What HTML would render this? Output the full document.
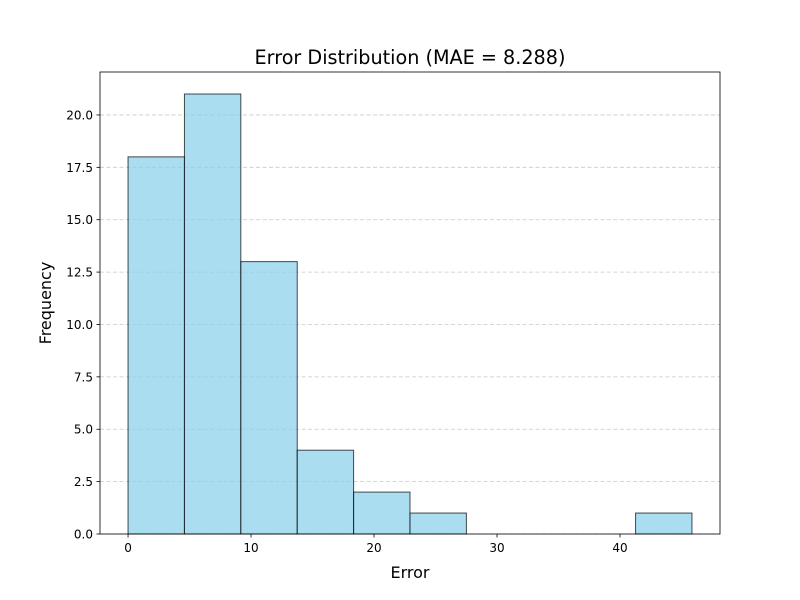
<!DOCTYPE html>
<html><head><meta charset="utf-8"><style>body{margin:0;background:#fff}svg{display:block}text{font-family:"DejaVu Sans","Liberation Sans",sans-serif}</style></head>
<body>
<svg id="chart" width="800" height="600" xmlns="http://www.w3.org/2000/svg">
<rect width="800" height="600" fill="#fff"/>
<g id="grid"></g><g id="bars"></g><g id="axes"></g>
<text x="410" y="64" text-anchor="middle" font-size="19.2">Error Distribution (MAE = 8.288)</text>
<text x="410" y="578" text-anchor="middle" font-size="16">Error</text>
<text transform="translate(51,303) rotate(-90)" text-anchor="middle" font-size="16">Frequency</text>
</svg>
<script>
const binStart = 0.0;
const binWidth = 4.585;
const counts = [18, 21, 13, 4, 2, 1, 0, 0, 0, 1];
const xTicks = [0, 10, 20, 30, 40];
const yTicks = [0, 2.5, 5, 7.5, 10, 12.5, 15, 17.5, 20];
const yTickLabels = ["0.0","2.5","5.0","7.5","10.0","12.5","15.0","17.5","20.0"];
const L=100,R=720,T=72,B=534, xmin=-2.28, xmax=48.13, ymax=22.05;
const X=v=>L+(v-xmin)/(xmax-xmin)*(R-L);
const Y=v=>B-v/ymax*(B-T);
const NS="http://www.w3.org/2000/svg";
function mk(tag,attrs,parent){const e=document.createElementNS(NS,tag);for(const k in attrs)e.setAttribute(k,attrs[k]);document.getElementById(parent).appendChild(e);return e;}
yTicks.forEach(v=>{const g=mk('line',{x1:L,x2:R,y1:Y(v),y2:Y(v),stroke:'#b0b0b0','stroke-opacity':0.7,'stroke-dasharray':'4,2.5','stroke-width':0.8},'grid');

});
counts.forEach((c,i)=>{if(c<=0)return;const x0=X(binStart+i*binWidth),x1=X(binStart+(i+1)*binWidth);
const r=mk('rect',{x:x0,y:Y(c),width:x1-x0,height:Y(0)-Y(c),fill:'#87ceeb','fill-opacity':0.7,stroke:'#000','stroke-opacity':0.7,'stroke-width':1},'bars');

});
const f=mk('rect',{x:L,y:T,width:R-L,height:B-T,fill:'none',stroke:'#000','stroke-width':0.8},'axes');


xTicks.forEach(v=>{mk('line',{x1:X(v),x2:X(v),y1:B,y2:B+3.5,stroke:'#000','stroke-width':0.8},'axes');
const t=mk('text',{x:X(v),y:B+18,'text-anchor':'middle','font-size':12},'axes');t.textContent=v;

});
yTicks.forEach((v,i)=>{mk('line',{x1:L-3.5,x2:L,y1:Y(v),y2:Y(v),stroke:'#000','stroke-width':0.8},'axes');
const t=mk('text',{x:L-7,y:Y(v)+4.5,'text-anchor':'end','font-size':12},'axes');t.textContent=yTickLabels[i];

});
</script>
</body></html>
